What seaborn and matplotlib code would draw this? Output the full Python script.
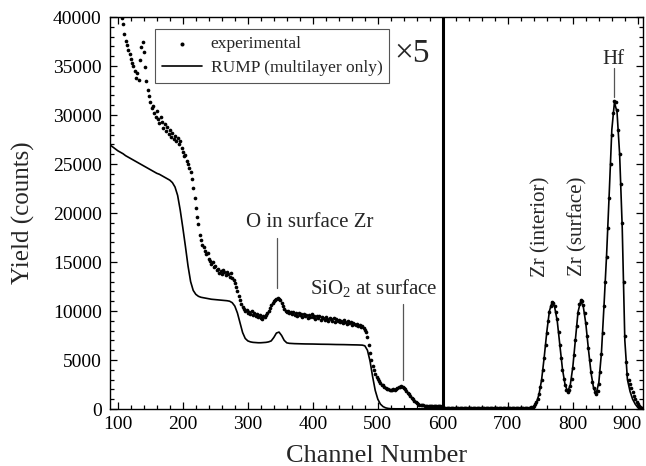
import numpy as np
import pandas as pd
import matplotlib
matplotlib.use('Agg')
import matplotlib.pyplot as plt
import matplotlib.transforms as mtrans
import seaborn as sns
from matplotlib.ticker import MultipleLocator

# ---------------- data ----------------
channel_exp = list(range(88, 910, 2))

experimental = [
    45000, 44500, 44000, 43300, 42800, 42000, 41500, 40800, 40300, 39900,   # 88-106
    39300, 38300, 37600, 37100, 36600, 36200, 35700, 35300, 35000, 34500,   # 108-126
    33800, 34300, 33600, 35600, 36900, 37500, 36400, 34900, 33500, 32600,   # 128-146
    31900, 31300, 30700, 30900, 30200, 29800, 30400, 29600, 29200, 29800,   # 148-166
    29300, 28700, 29100, 28400, 28800, 28100, 28500, 27800, 28200, 27600,   # 168-186
    27900, 27300, 27700, 27000, 27300, 26600, 26200, 25800, 25900, 25300,   # 188-206
    25000, 24600, 24200, 23500, 22600, 21500, 20500, 19600, 18900, 17800,   # 208-226
    17200, 16700, 16500, 16100, 15800, 15900, 15300, 15100, 14800, 15000,   # 228-246
    14500, 14600, 14200, 14300, 13900, 14100, 13800, 14200, 14000, 13700,   # 248-266
    14000, 13800, 13500, 13900, 13400, 13200, 12900, 12400, 12000, 11500,   # 268-286
    11100, 10700, 10400, 10200, 10000, 10100, 9800, 9900, 9700, 10000,      # 288-306
    9600, 9800, 9500, 9700, 9400, 9600, 9300, 9200, 9500, 9400,             # 308-326
    9600, 9800, 10000, 10300, 10600, 10800, 11000, 11100, 11200, 11300,     # 328-346
    11200, 11100, 10800, 10500, 10200, 10000, 9900, 10000, 9800, 9900,      # 348-366
    9700, 9900, 9600, 9800, 9500, 9800, 9600, 9700, 9400, 9700,             # 368-386
    9500, 9600, 9300, 9600, 9400, 9700, 9400, 9500, 9200, 9500,             # 388-406
    9300, 9500, 9100, 9400, 9300, 9100, 9400, 9200, 9000, 9300,             # 408-426
    9200, 9000, 9300, 8900, 9200, 9000, 9100, 8900, 9000, 8800,             # 428-446
    9100, 8900, 8700, 9000, 8800, 8900, 8600, 8800, 8700, 8600,             # 448-466
    8700, 8500, 8600, 8400, 8500, 8300, 8100, 7900, 7300, 6500,             # 468-486
    5700, 5000, 4400, 4000, 3600, 3300, 3100, 2900, 2700, 2500,             # 488-506
    2400, 2200, 2100, 2000, 2000, 1900, 1950, 1900, 2000, 1950,             # 508-526
    2050, 2100, 2200, 2250, 2300, 2250, 2150, 2000, 1800, 1650,             # 528-546
    1500, 1300, 1150, 1000, 850, 700, 600, 500, 450, 400,                   # 548-566
    380, 360, 350, 340, 330, 320, 320, 310, 300, 300,                       # 568-586
    300, 290, 280, 280, 270, 260, 150, 130, 120, 120,                       # 588-606
    110, 120, 110, 120, 100, 110, 100, 110, 100, 100,                       # 608-626
    100, 110, 100, 100, 110, 100, 90, 100, 100, 90,                         # 628-646
    90, 100, 90, 100, 90, 90, 100, 90, 90, 100,                             # 648-666
    90, 80, 90, 80, 90, 80, 80, 90, 80, 90,                                 # 668-686
    80, 80, 90, 80, 80, 90, 80, 80, 90, 80,                                 # 688-706
    80, 90, 80, 80, 90, 80, 90, 100, 100, 110,                              # 708-726
    110, 120, 130, 150, 180, 240, 320, 480, 700, 1050,                      # 728-746
    1500, 2200, 3000, 4000, 5200, 6500, 7800, 9000, 9900, 10500,            # 748-766
    10900, 10800, 10500, 9900, 9200, 7900, 6500, 5200, 4000, 3100,          # 768-786
    2400, 1900, 1700, 1900, 2300, 3100, 4200, 5500, 7000, 8500,             # 788-806
    9800, 10700, 11100, 11000, 10600, 9800, 8800, 7500, 6200, 5000,         # 808-826
    3800, 2800, 2100, 1700, 1500, 1800, 2600, 3800, 5600, 7800,             # 828-846
    10500, 13000, 15500, 18500, 21500, 25000, 28000, 30200, 31400, 31300,   # 848-866
    30500, 28500, 26000, 23000, 19000, 13000, 7500, 4800, 3600, 3000,       # 868-886
    2600, 2100, 1700, 1300, 1000, 700, 500, 350, 200, 150,                  # 888-906
    100,                                                                    # 908
]

channel_rump = list(range(88, 912, 4))

rump = [
    26950, 26750, 26550, 26350, 26200, 26050, 25850, 25700, 25550, 25400,   # 88-124
    25250, 25100, 24950, 24800, 24650, 24500, 24350, 24200, 24050, 23950,   # 128-164
    23800, 23650, 23500, 23350, 23100, 22650, 21800, 20300, 18500, 16600,   # 168-204
    14600, 13000, 12100, 11700, 11500, 11400, 11350, 11300, 11250, 11200,   # 208-244
    11180, 11150, 11120, 11100, 11080, 11050, 11000, 10850, 10500, 9800,    # 248-284
    8800, 7800, 7200, 6950, 6850, 6800, 6780, 6760, 6760, 6780,             # 288-324
    6800, 6850, 6950, 7300, 7750, 7850, 7500, 7000, 6750, 6700,             # 328-364
    6680, 6670, 6660, 6650, 6650, 6640, 6640, 6630, 6630, 6620,             # 368-404
    6620, 6610, 6610, 6600, 6600, 6590, 6590, 6580, 6580, 6570,             # 408-444
    6570, 6560, 6560, 6550, 6550, 6540, 6530, 6520, 6450, 6000,             # 448-484
    4900, 3300, 1900, 1000, 500, 250, 120, 60, 30, 20,                      # 488-524
    20, 20, 20, 20, 20, 20, 20, 20, 20, 20,                                 # 528-564
    20, 20, 20, 20, 20, 20, 20, 20, 10, 10,                                 # 568-604
    10, 10, 10, 10, 10, 10, 10, 10, 10, 10,                                 # 608-644
    10, 10, 10, 10, 10, 10, 10, 10, 10, 10,                                 # 648-684
    10, 10, 10, 10, 10, 10, 10, 10, 10, 10,                                 # 688-724
    30, 60, 120, 250, 650, 1500, 3000, 5300, 7900, 10000,                   # 728-764
    10900, 10400, 9000, 6500, 4100, 2500, 1800, 2400, 4300, 7100,           # 768-804
    9900, 11000, 10500, 8700, 6100, 3700, 2100, 1600, 2700, 5700,           # 808-844
    10600, 15800, 22000, 28500, 31300, 30300, 26000, 18500, 7000, 3000,     # 848-884
    1800, 1000, 500, 150, 40, 10,                                           # 888-908
]

assert len(channel_exp) == len(experimental)
assert len(channel_rump) == len(rump)

# ---------------- style ----------------
sns.set_theme(style='ticks')
plt.rcParams['font.family'] = ['Liberation Serif', 'DejaVu Serif']
plt.rcParams['mathtext.fontset'] = 'custom'
plt.rcParams['mathtext.rm'] = 'Liberation Serif'
plt.rcParams['mathtext.it'] = 'Liberation Serif:italic'

fig, ax = plt.subplots(figsize=(6.46, 4.66), dpi=100)
fig.subplots_adjust(left=0.1703, right=0.9954, top=0.9635, bottom=0.1223)

df_exp = pd.DataFrame({'channel': channel_exp, 'counts': experimental})
df_rump = pd.DataFrame({'channel': channel_rump, 'counts': rump})

sns.scatterplot(data=df_exp, x='channel', y='counts', ax=ax, color='black',
                s=7, linewidth=0, label='experimental', zorder=3)
sns.lineplot(data=df_rump, x='channel', y='counts', ax=ax, color='black', lw=1.2,
             label='RUMP (multilayer only)', zorder=2)

ax.axvline(600, color='black', lw=2.2, zorder=4)

ax.set_xlim(88, 908)
ax.set_ylim(0, 40000)
ax.xaxis.set_major_locator(MultipleLocator(100))
ax.xaxis.set_minor_locator(MultipleLocator(20))
ax.yaxis.set_major_locator(MultipleLocator(5000))
ax.yaxis.set_minor_locator(MultipleLocator(1000))
ax.tick_params(which='both', direction='in', top=True, right=True, width=0.9,
               colors='black', labelsize=14)
ax.tick_params(which='major', length=5)
ax.tick_params(which='minor', length=3)
ax.tick_params(axis='y', pad=6)
ax.tick_params(axis='x', pad=5)
for s in ax.spines.values():
    s.set_linewidth(1.0)
    s.set_color('black')

ax.set_xlabel('Channel Number', fontsize=19, labelpad=9)
ax.set_ylabel('Yield (counts)', fontsize=18, labelpad=13)

leg = ax.legend(loc='upper left', bbox_to_anchor=(0.0844, 0.969), borderaxespad=0,
                frameon=True, fancybox=False, edgecolor='#555555', framealpha=1,
                fontsize=12.5, handlelength=2.3, borderpad=0.4, labelspacing=0.45,
                handletextpad=0.5, markerscale=1.1)
leg.get_frame().set_linewidth(0.8)

# ---------------- annotations ----------------
ax.text(553, 36300, '×5', fontsize=24, ha='center', va='center')
ax.text(396, 19080, 'O in surface Zr', fontsize=15, ha='center', va='center')
ax.plot([345, 345], [17450, 12350], color='#555555', lw=0.9)
ax.text(494, 12350, 'SiO$_2$ at surface', fontsize=15, ha='center', va='center')
ax.plot([539, 539], [10700, 2960], color='#555555', lw=0.9)
ax.text(751, 13470, 'Zr (interior)', fontsize=15, rotation=90, ha='center', va='bottom')
ax.text(808, 13570, 'Zr (surface)', fontsize=15, rotation=90, ha='center', va='bottom')
ax.text(862, 35700, 'Hf', fontsize=15, ha='center', va='center')
ax.plot([863, 863], [34800, 31840], color='#555555', lw=0.9)

# keep the last x tick label inside the figure, as in the reference
fig.canvas.draw()
for lab in ax.get_xticklabels():
    if abs(lab.get_position()[0] - 900) < 1e-6:
        lab.set_transform(lab.get_transform() +
                          mtrans.ScaledTranslation(-8 / 72, 0, fig.dpi_scale_trans))

fig.savefig('out.png', dpi=100)
